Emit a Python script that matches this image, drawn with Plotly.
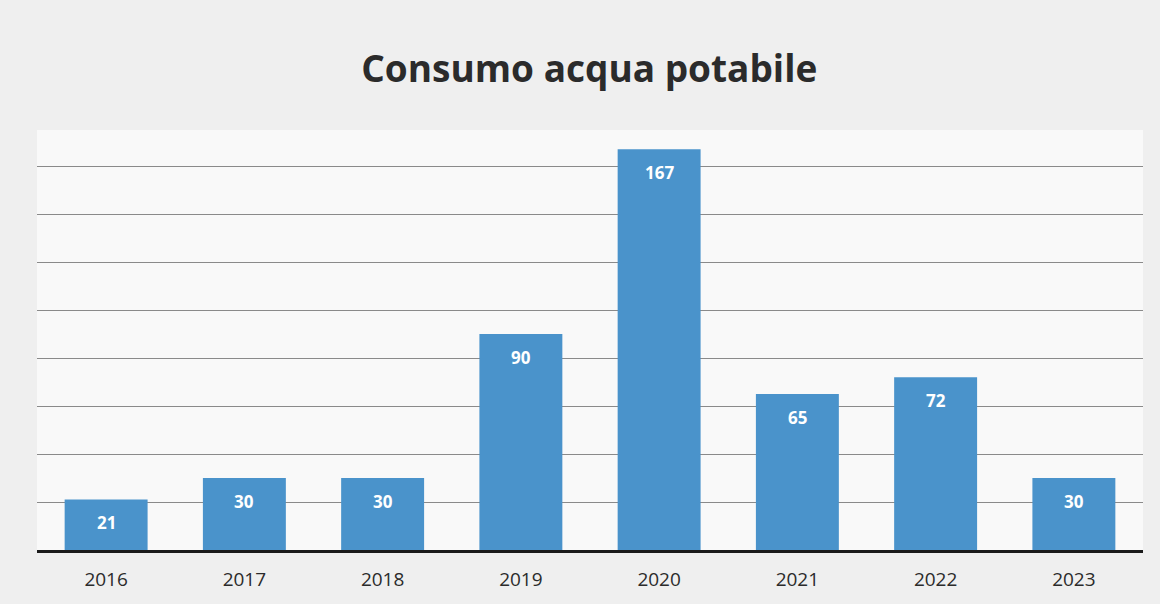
import plotly.graph_objects as go

years = ["2016", "2017", "2018", "2019", "2020", "2021", "2022", "2023"]
consumo = [21, 30, 30, 90, 167, 65, 72, 30]
title_text = "Consumo acqua potabile"

bar_color = "#4a93cb"

fig = go.Figure()
fig.add_trace(go.Bar(
    x=years, y=consumo,
    marker=dict(color=bar_color, line=dict(width=0)),
    hoverinfo="x+y",
))

for i, v in enumerate(consumo):
    fig.add_annotation(
        x=i, y=v, xref="x", yref="y",
        text=f"<b>{v}</b>", showarrow=False,
        yanchor="middle", yshift=-23,
        font=dict(family="Open Sans, sans-serif", size=17, color="white"),
    )

fig.update_layout(
    width=1160, height=604,
    margin=dict(l=37, r=17, t=130, b=54),
    paper_bgcolor="#efefef",
    plot_bgcolor="#f9f9f9",
    title=dict(
        text=f"<b>{title_text}</b>",
        x=0.508, xanchor="center", y=0.885, yanchor="middle",
        font=dict(family="Open Sans, sans-serif", size=37, color="#2b2b2b"),
    ),
    bargap=0.4,
    showlegend=False,
    xaxis=dict(
        type="category",
        range=[-0.5, len(years) - 0.5],
        showgrid=False,
        showline=True, linecolor="#1a1a1a", linewidth=3,
        ticks="", ticklen=0,
        ticklabelstandoff=10,
        tickfont=dict(family="Open Sans, sans-serif", size=19, color="#2b2b2b"),
    ),
    yaxis=dict(
        range=[0, 175],
        dtick=20,
        showgrid=True, gridcolor="#8a8a8a", gridwidth=1,
        zeroline=False,
        showticklabels=False,
        ticks="",
    ),
)

fig.write_html("out.html")
